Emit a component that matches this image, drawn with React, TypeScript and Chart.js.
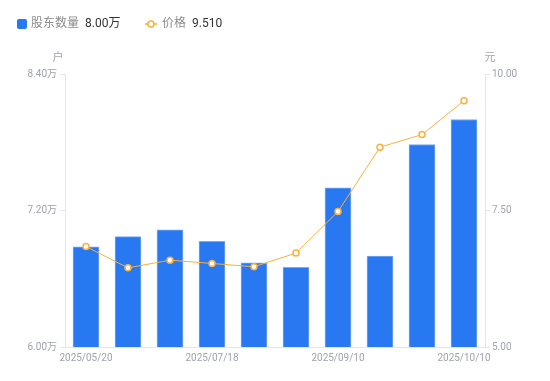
import React, { useEffect, useRef } from "react";
import { Chart, registerables } from "chart.js";

Chart.register(...registerables);

const categories = [
  "2025/05/20", "2025/06/10", "2025/06/30", "2025/07/18", "2025/07/31",
  "2025/08/20", "2025/09/10", "2025/09/19", "2025/09/30", "2025/10/10",
];
const holders = [6.88, 6.97, 7.03, 6.93, 6.74, 6.70, 7.40, 6.80, 7.78, 8.0];
const prices = [6.84, 6.45, 6.59, 6.53, 6.47, 6.72, 7.48, 8.66, 8.89, 9.51];
const leftTicks = [6.0, 7.2, 8.4];
const rightTicks = [5.0, 7.5, 10.0];

const FONT = "Roboto, 'Noto Sans CJK SC', sans-serif";
const BAR = "#2878F2";
const LINE = "#F7B13C";

const overlay = {
  id: "overlay",
  afterDraw(chart: any) {
    const ctx = chart.ctx;
    const area = chart.chartArea;
    ctx.save();
    // legend
    const ly = 24;
    ctx.fillStyle = BAR;
    ctx.beginPath();
    (ctx as any).roundRect ? ctx.roundRect(17, ly - 5, 10, 10, 2) : ctx.rect(17, ly - 5, 10, 10);
    ctx.fill();
    ctx.font = `12px ${FONT}`;
    ctx.textBaseline = "middle";
    ctx.textAlign = "left";
    ctx.fillStyle = "#8c8c8c";
    ctx.fillText("股东数量", 31, ly);
    ctx.fillStyle = "#333333";
    ctx.fillText(holders[holders.length - 1].toFixed(2) + "万", 85, ly);
    ctx.strokeStyle = LINE;
    ctx.lineWidth = 1.5;
    ctx.beginPath();
    ctx.moveTo(145, ly);
    ctx.lineTo(157, ly);
    ctx.stroke();
    ctx.fillStyle = "#fff";
    ctx.beginPath();
    ctx.arc(151, ly, 3, 0, Math.PI * 2);
    ctx.fill();
    ctx.stroke();
    ctx.fillStyle = "#8c8c8c";
    ctx.fillText("价格", 162, ly);
    ctx.fillStyle = "#333333";
    ctx.fillText(prices[prices.length - 1].toFixed(3), 192, ly);
    // axis titles
    ctx.font = `11px ${FONT}`;
    ctx.fillStyle = "#a0a3ad";
    ctx.textAlign = "center";
    ctx.fillText("户", area.left - 7, area.top - 16);
    ctx.fillText("元", area.right + 5, area.top - 16);
    ctx.restore();
  },
};

export default function App() {
  const ref = useRef<HTMLCanvasElement>(null);
  useEffect(() => {
    document.body.style.margin = "0";
    const chart = new Chart(ref.current!, {
      type: "bar",
      data: {
        labels: categories,
        datasets: [
          {
            type: "line",
            label: "价格",
            data: prices,
            yAxisID: "y1",
            borderColor: LINE,
            borderWidth: 1,
            pointRadius: 3,
            pointBorderWidth: 1.5,
            pointBackgroundColor: "#ffffff",
            pointBorderColor: LINE,
            tension: 0,
            order: 0,
          } as any,
          {
            type: "bar",
            label: "股东数量",
            data: holders,
            yAxisID: "y",
            backgroundColor: BAR,
            borderColor: "#79A9F5",
            borderWidth: { top: 1, left: 1, right: 1, bottom: 0 },
            barThickness: 26,
            order: 1,
          } as any,
        ],
      },
      options: {
        responsive: false,
        animation: false,
        layout: { padding: { top: 74, left: 0, right: 0, bottom: 0 } },
        plugins: { legend: { display: false }, tooltip: { enabled: false } },
        scales: {
          x: {
            grid: { display: false, drawTicks: false },
            border: { display: true, color: "#e6e6e6" },
            afterFit: (s: any) => { s.height = 34; },
            ticks: {
              padding: 5,
              color: "#a0a3ad",
              font: { size: 10, family: FONT },
              maxRotation: 0,
              autoSkip: false,
              callback: (v: any, i: number) => (i % 3 === 0 ? categories[i] : ""),
            },
          },
          y: {
            position: "left",
            min: 6.0,
            max: 8.4,
            afterFit: (s: any) => { s.width = 65; },
            afterBuildTicks: (s: any) => { s.ticks = leftTicks.map((v) => ({ value: v })); },
            grid: { drawOnChartArea: false, tickLength: 5, color: "#e6e6e6" },
            border: { display: true, color: "#e6e6e6" },
            ticks: {
              padding: 3,
              color: "#a0a3ad",
              font: { size: 10, family: FONT },
              callback: (v: any) => Number(v).toFixed(2) + "万",
            },
          },
          y1: {
            position: "right",
            min: 5,
            max: 10,
            afterFit: (s: any) => { s.width = 65; },
            afterBuildTicks: (s: any) => { s.ticks = rightTicks.map((v) => ({ value: v })); },
            grid: { drawOnChartArea: false, tickLength: 5, color: "#e6e6e6" },
            border: { display: true, color: "#e6e6e6" },
            ticks: {
              padding: 2,
              color: "#a0a3ad",
              font: { size: 10, family: FONT },
              callback: (v: any) => Number(v).toFixed(2),
            },
          },
        },
      },
      plugins: [overlay],
    });
    return () => chart.destroy();
  }, []);
  return <canvas ref={ref} width={550} height={381} style={{ display: "block" }} />;
}
